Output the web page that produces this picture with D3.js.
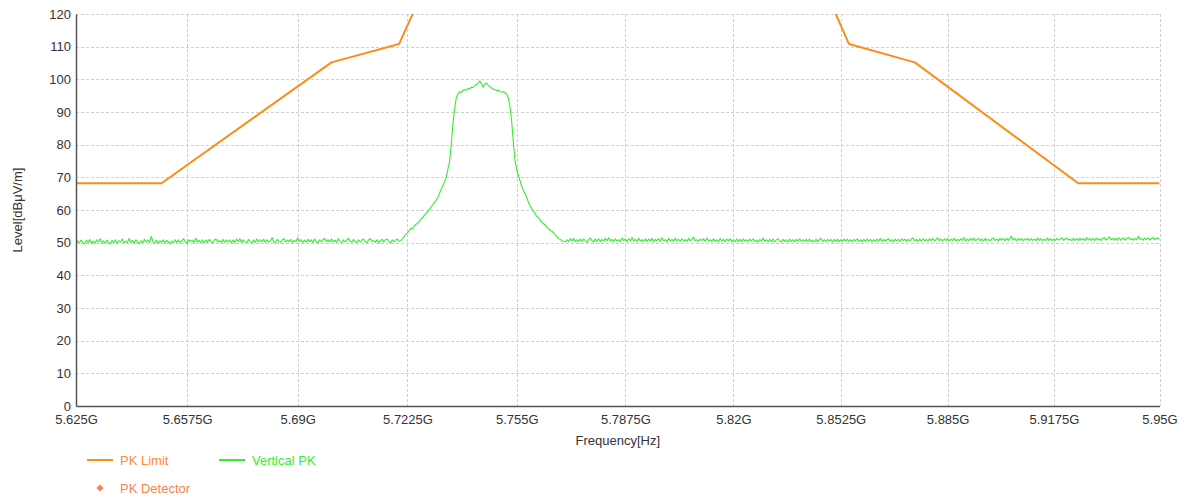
<!DOCTYPE html>
<html>
<head>
<meta charset="utf-8">
<script src="https://cdn.jsdelivr.net/npm/d3@7"></script>
<style>
  body { margin: 0; background: #fff; }
  text { font-family: Arial, "Liberation Sans", sans-serif; }
</style>
</head>
<body>
<svg id="chart" width="1186" height="500"></svg>
<script>
// Sweep settings (MHz)
const sweepStepMHz = 0.5;

// Vertical PK trace, lower band noise floor
const lowBandStartMHz = 5625;
const lowBandLevels = [
  49.7, 50.6, 49.9, 50.8, 50.1, 49.6, 50.7, 50.0, 51.0, 49.8,
  50.5, 49.7, 50.9, 50.2, 51.2, 49.9, 50.6, 49.8, 50.8, 50.1,
  49.6, 50.7, 50.0, 50.9, 49.8, 50.6, 50.2, 51.1, 49.9, 50.5,
  50.0, 51.3, 50.1, 50.7, 49.8, 50.9, 50.2, 49.7, 50.6, 50.0,
  51.0, 50.2, 50.8, 50.0, 51.9, 50.3, 49.9, 50.8, 49.8, 50.6,
  50.1, 50.9, 49.9, 50.7, 50.2, 49.7, 50.5, 50.0, 50.9, 50.1,
  50.8, 49.9, 50.7, 51.2, 50.1, 49.8, 50.9, 50.3, 50.8, 50.0,
  51.4, 50.2, 50.7, 50.0, 50.9, 49.9, 50.8, 50.1, 51.0, 50.3,
  49.9, 50.9, 51.1, 50.2, 50.7, 50.0, 51.0, 50.1, 50.8, 50.2,
  50.9, 49.9, 50.8, 50.1, 51.1, 50.4, 51.2, 50.0, 50.9, 50.2,
  50.0, 51.0, 50.3, 49.9, 50.8, 50.1, 51.1, 50.2, 50.9, 50.3,
  51.0, 50.1, 50.9, 50.2, 50.7, 51.5, 50.3, 50.0, 51.0, 50.4,
  50.1, 50.9, 51.2, 50.2, 50.8, 50.3, 51.0, 50.1, 50.7, 50.3,
  51.5, 50.4, 50.9, 50.1, 50.8, 50.2, 51.0, 50.3, 50.9, 50.1,
  51.1, 50.3, 50.0, 50.9, 50.2, 51.0, 51.3, 50.3, 50.9, 50.2,
  51.1, 50.3, 50.8, 50.1, 51.2, 50.4, 50.0, 50.9, 50.2, 50.8,
  51.3, 50.4, 50.1, 51.0, 50.3, 50.0, 50.9, 50.2, 50.8, 51.1,
  50.3, 50.0, 50.9, 51.2, 50.3, 50.7, 50.1, 50.9, 50.0, 50.7,
  51.0, 50.2, 50.9, 51.1, 50.3, 50.0, 50.9, 50.2, 50.8, 51.1,
  50.5
];

// Vertical PK trace, occupied channel
const signalStartMHz = 5720.5;
const signalLevels = [
  50.6, 51.2, 51.9, 52.6, 53.0, 53.6, 54.4, 54.2, 55.1, 55.6,
  56.0, 56.5, 57.3, 57.6, 58.4, 58.9, 59.6, 60.2, 60.9, 61.6,
  62.3, 63.0, 63.8, 65.1, 66.3, 67.4, 68.6, 70.0, 72.5, 74.8,
  80.0, 86.5, 91.0, 94.3, 95.6, 96.2, 96.0, 96.6, 96.9, 96.7,
  97.3, 97.1, 97.6, 97.5, 98.2, 98.4, 98.9, 99.5, 98.7, 97.6,
  98.6, 98.9, 98.1, 97.8, 97.3, 97.0, 96.9, 96.6, 96.7, 96.3,
  96.0, 96.3, 95.9, 95.5, 94.2, 91.5, 87.0, 80.5, 75.0, 72.3,
  70.6, 68.9, 67.2, 66.0, 65.0, 63.8, 62.3, 61.2, 60.4, 59.6,
  58.8, 58.0, 57.8, 56.9, 56.2, 55.8, 55.4, 54.6, 54.3, 53.8,
  53.5, 53.0, 52.4, 51.9, 51.3, 51.0, 50.6, 50.4
];

// Vertical PK trace, upper band noise floor
const highBandStartMHz = 5769.5;
const highBandLevels = [
  50.2, 50.9, 50.4, 51.2, 50.5, 51.3, 50.4, 50.9, 50.3, 51.1,
  50.4, 51.2, 50.6, 50.1, 51.0, 51.4, 50.6, 50.2, 51.1, 50.5,
  51.2, 50.3, 51.0, 50.5, 51.3, 50.6, 51.5, 50.5, 51.0, 50.4,
  51.2, 50.5, 50.9, 50.3, 51.4, 50.6, 51.1, 50.4, 51.2, 50.6,
  51.6, 50.5, 51.0, 50.4, 51.3, 50.5, 50.9, 50.3, 51.2, 50.4,
  51.1, 50.5, 51.3, 50.3, 51.0, 50.6, 51.2, 50.4, 51.5, 50.6,
  50.9, 50.3, 51.3, 50.5, 51.0, 50.4, 51.4, 50.6, 51.0, 50.4,
  51.2, 50.5, 50.9, 50.4, 51.3, 50.5, 51.1, 51.7, 50.6, 50.9,
  50.3, 51.1, 50.6, 51.2, 50.4, 51.4, 50.5, 50.9, 50.4, 51.2,
  50.4, 50.9, 50.2, 51.3, 50.5, 51.0, 50.3, 51.1, 50.6, 51.2,
  50.4, 50.9, 50.2, 51.1, 50.4, 51.0, 50.3, 51.2, 50.5, 50.9,
  50.3, 51.1, 50.5, 51.2, 50.3, 50.8, 50.2, 51.0, 50.5, 51.4,
  50.4, 50.9, 50.3, 51.0, 50.4, 51.1, 50.2, 50.9, 51.2, 50.5,
  50.2, 51.0, 50.4, 50.9, 50.2, 51.1, 50.4, 50.9, 50.3, 51.0,
  50.4, 51.2, 50.5, 50.9, 50.3, 51.0, 50.4, 51.1, 50.3, 50.8,
  50.2, 51.0, 50.3, 51.0, 51.3, 50.4, 50.9, 50.3, 51.0, 50.5,
  51.0, 50.2, 51.0, 50.4, 51.1, 50.3, 50.9, 50.4, 51.1, 50.5,
  51.1, 50.3, 50.9, 50.4, 51.0, 50.5, 51.2, 50.4, 50.9, 50.3,
  51.0, 50.4, 51.1, 50.5, 51.0, 50.3, 50.9, 50.4, 51.1, 50.5,
  51.3, 50.4, 51.0, 50.5, 50.9, 51.2, 50.4, 50.9, 50.3, 51.1,
  50.5, 51.0, 50.4, 51.2, 50.6, 51.1, 50.4, 51.0, 50.5, 51.2,
  51.4, 50.5, 51.0, 50.4, 51.1, 50.5, 51.2, 50.6, 51.0, 50.5,
  51.2, 50.6, 51.3, 50.5, 51.0, 51.5, 50.6, 51.1, 50.5, 51.2,
  50.6, 51.3, 50.5, 51.1, 50.6, 51.4, 50.5, 51.0, 50.6, 51.2,
  50.7, 51.6, 50.5, 51.1, 50.6, 51.3, 50.7, 51.4, 50.6, 51.0,
  51.3, 50.6, 51.1, 50.5, 51.3, 50.7, 51.0, 50.5, 51.2, 51.4,
  50.7, 51.1, 50.6, 51.3, 50.8, 51.2, 50.6, 51.3, 50.7, 51.2,
  52.0, 50.8, 51.3, 50.6, 51.2, 50.7, 51.3, 50.6, 51.1, 50.8,
  51.3, 50.6, 51.2, 50.7, 51.1, 50.6, 51.4, 50.7, 51.2, 50.6,
  51.1, 50.6, 51.4, 50.7, 51.2, 50.6, 51.1, 50.7, 51.3, 50.8,
  51.0, 51.5, 50.7, 51.2, 51.4, 50.8, 51.1, 50.6, 51.3, 50.7,
  51.2, 50.7, 51.4, 50.8, 51.2, 50.7, 51.6, 50.8, 51.3, 50.7,
  51.3, 50.7, 51.4, 50.8, 51.2, 50.7, 51.3, 51.6, 50.8, 51.2,
  51.8, 50.9, 51.3, 50.8, 51.4, 50.7, 51.5, 50.8, 51.2, 51.4,
  50.8, 51.3, 51.6, 50.9, 51.2, 50.8, 51.3, 50.9, 52.0, 51.0,
  51.3, 50.8, 51.4, 50.9, 51.5, 50.8, 51.2, 51.6, 50.9, 51.3,
  51.4, 51.0
];

// PK limit mask
const limitFreqMHz = [5625, 5650, 5700, 5720, 5725, 5850, 5855, 5875, 5925, 5950];
const limitLevels  = [68.2, 68.2, 105.2, 110.8, 122.2, 122.2, 110.8, 105.2, 68.2, 68.2];

// Axis ticks
const xTickMHz = [5625, 5657.5, 5690, 5722.5, 5755, 5787.5, 5820, 5852.5, 5885, 5917.5, 5950];
const xTickLabels = ["5.625G", "5.6575G", "5.69G", "5.7225G", "5.755G", "5.7875G",
                     "5.82G", "5.8525G", "5.885G", "5.9175G", "5.95G"];
const yTicks = [0, 10, 20, 30, 40, 50, 60, 70, 80, 90, 100, 110, 120];

const legendItems = [
  { name: "PK Limit", kind: "line", color: "#ff8c1a", text: "#ff8c33" },
  { name: "Vertical PK", kind: "line", color: "#33ee33", text: "#33ee33" },
  { name: "PK Detector", kind: "diamond", color: "#ff7f50", text: "#ff7f50" }
];

// ---- layout ----
const svg = d3.select("#chart");
const plot = { left: 76, right: 1159.5, top: 14, bottom: 406 };

const x = d3.scaleLog().domain([5625, 5950]).range([plot.left, plot.right]);
const y = d3.scaleLinear().domain([0, 120]).range([plot.bottom, plot.top]);

function segment(startMHz, levels) {
  return levels.map((v, i) => ({ f: startMHz + i * sweepStepMHz, v }));
}
const tracePoints = [
  ...segment(lowBandStartMHz, lowBandLevels),
  ...segment(signalStartMHz, signalLevels),
  ...segment(highBandStartMHz, highBandLevels)
].filter(d => d.f <= 5950);

const limitPoints = limitFreqMHz.map((f, i) => ({ f, v: limitLevels[i] }));

svg.append("defs").append("clipPath").attr("id", "plotClip")
  .append("rect")
  .attr("x", plot.left).attr("y", plot.top)
  .attr("width", plot.right - plot.left).attr("height", plot.bottom - plot.top);

// grid
const grid = svg.append("g").attr("stroke", "#cfcfcf").attr("stroke-width", 1)
  .attr("stroke-dasharray", "3,2");
grid.selectAll("line.h").data(yTicks.filter(t => t > 0)).join("line")
  .attr("x1", plot.left).attr("x2", plot.right)
  .attr("y1", d => Math.round(y(d)) + 0.5).attr("y2", d => Math.round(y(d)) + 0.5);
grid.selectAll("line.v").data(xTickMHz.slice(1)).join("line")
  .attr("y1", plot.top).attr("y2", plot.bottom)
  .attr("x1", d => Math.round(x(d)) + 0.5).attr("x2", d => Math.round(x(d)) + 0.5);

// traces
const line = d3.line().x(d => x(d.f)).y(d => y(d.v));
const traces = svg.append("g").attr("clip-path", "url(#plotClip)");
traces.append("path").datum(limitPoints)
  .attr("fill", "none").attr("stroke", "#ff8c1a").attr("stroke-width", 2)
  .attr("stroke-linejoin", "round").attr("d", line);
traces.append("path").datum(tracePoints)
  .attr("fill", "none").attr("stroke", "#33ee33").attr("stroke-width", 1.1)
  .attr("stroke-linejoin", "round").attr("d", line);

// axes
const yAxis = d3.axisLeft(y).tickValues(yTicks).tickSize(0).tickPadding(5);
const gy = svg.append("g").attr("transform", `translate(${plot.left},0)`).call(yAxis);
gy.select(".domain").attr("stroke", "#555").attr("stroke-width", 1.5);
gy.selectAll("text").attr("font-size", 13).attr("fill", "#333")
  .attr("font-family", "Arial, 'Liberation Sans', sans-serif");

const xAxis = d3.axisBottom(x).tickValues(xTickMHz)
  .tickFormat((d, i) => xTickLabels[i]).tickSize(0).tickPadding(9);
const gx = svg.append("g").attr("transform", `translate(0,${plot.bottom})`).call(xAxis);
gx.select(".domain").attr("stroke", "#555").attr("stroke-width", 1.5);
gx.selectAll("text").attr("font-size", 13).attr("fill", "#333")
  .attr("font-family", "Arial, 'Liberation Sans', sans-serif");

// axis titles
svg.append("text").attr("x", (plot.left + plot.right) / 2).attr("y", 445)
  .attr("text-anchor", "middle").attr("font-size", 13).attr("fill", "#333")
  .text("Frequency[Hz]");
svg.append("text").attr("transform", "translate(22,210) rotate(-90)")
  .attr("text-anchor", "middle").attr("font-size", 13).attr("fill", "#333")
  .text("Level[dBμV/m]");

// legend
const legendPos = [{ x: 87, y: 460 }, { x: 219, y: 460 }, { x: 87, y: 488 }];
const lg = svg.append("g");
legendItems.forEach((item, i) => {
  const p = legendPos[i];
  if (item.kind === "line") {
    lg.append("line").attr("x1", p.x).attr("x2", p.x + 26)
      .attr("y1", p.y).attr("y2", p.y)
      .attr("stroke", item.color).attr("stroke-width", 2);
  } else {
    lg.append("path").attr("d", d3.symbol(d3.symbolSquare, 26)())
      .attr("transform", `translate(${p.x + 13},${p.y}) rotate(45)`)
      .attr("fill", item.color);
  }
  lg.append("text").attr("x", p.x + 33).attr("y", p.y + 4.5)
    .attr("font-size", 13).attr("fill", item.text).text(item.name);
});
</script>
</body>
</html>
